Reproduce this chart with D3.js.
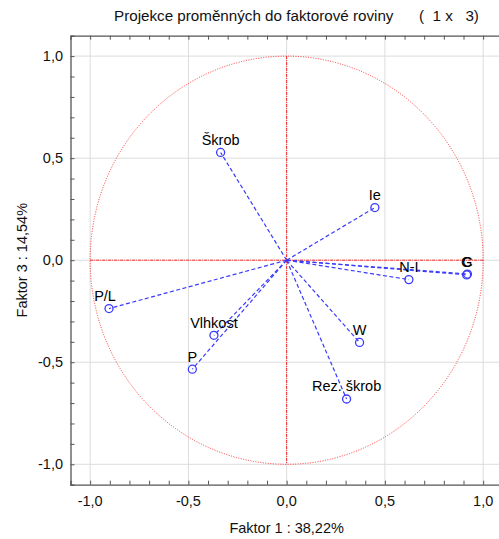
<!DOCTYPE html>
<html>
<head>
<meta charset="utf-8">
<script src="https://cdn.jsdelivr.net/npm/d3@7"></script>
<style>
  body { margin: 0; background: #fff; }
  text { font-family: "Liberation Sans", Arial, sans-serif; fill: #111; }
</style>
</head>
<body>
<div id="chart"></div>
<script>
// variable projections onto factor plane (1 x 3)
const names = ["Škrob", "Ie", "N-I", "C", "G", "P/L", "Vlhkost", "P", "W", "Rez. škrob"];
const factor1 = [-0.336, 0.449, 0.622, 0.920, 0.916, -0.904, -0.370, -0.480, 0.371, 0.305];
const factor3 = [0.528, 0.258, -0.095, -0.068, -0.072, -0.237, -0.368, -0.534, -0.403, -0.680];
const majorTicks = [-1.0, -0.5, 0.0, 0.5, 1.0];
const minorTicks = [-1.0, -0.9, -0.8, -0.7, -0.6, -0.5, -0.4, -0.3, -0.2, -0.1, 0.0,
  0.1, 0.2, 0.3, 0.4, 0.5, 0.6, 0.7, 0.8, 0.9, 1.0];

const dims = { width: 499, height: 539 };
const plot = { left: 70.5, right: 502.8, top: 35.7, bottom: 484.7 };

const svg = d3.select('div#chart').append('svg')
  .attr('width', dims.width)
  .attr('height', dims.height);

const x = d3.scaleLinear().domain([-1.1, 1.1]).range([plot.left, plot.right]);
const y = d3.scaleLinear().domain([-1.1, 1.1]).range([plot.bottom, plot.top]);
const fmt = v => d3.format('.1f')(v).replace('.', ',').replace('−', '-');

// gridlines
svg.append('g').selectAll('line.gx').data(majorTicks).join('line')
  .attr('x1', d => x(d)).attr('x2', d => x(d))
  .attr('y1', plot.top).attr('y2', plot.bottom)
  .attr('stroke', '#dcdcdc');
svg.append('g').selectAll('line.gy').data(majorTicks).join('line')
  .attr('x1', plot.left).attr('x2', plot.right)
  .attr('y1', d => y(d)).attr('y2', d => y(d))
  .attr('stroke', '#dcdcdc');

// axes with inward minor ticks
const xAxisB = d3.axisTop(x).tickValues(minorTicks).tickSize(4).tickFormat('');
const xAxisT = d3.axisBottom(x).tickValues(minorTicks).tickSize(4).tickFormat('');
const yAxisL = d3.axisRight(y).tickValues(minorTicks).tickSize(4).tickFormat('');
[
  svg.append('g').attr('transform', `translate(0,${plot.bottom})`).call(xAxisB),
  svg.append('g').attr('transform', `translate(0,${plot.top})`).call(xAxisT),
  svg.append('g').attr('transform', `translate(${plot.left},0)`).call(yAxisL)
].forEach(g => {
  g.select('.domain').attr('stroke', '#555').attr('stroke-width', 1.3);
  g.selectAll('.tick line').attr('stroke', '#555');
});

// tick labels
svg.append('g').selectAll('text').data(majorTicks).join('text')
  .attr('x', d => x(d)).attr('y', 506)
  .attr('text-anchor', 'middle').attr('font-size', 14.5)
  .text(fmt);
svg.append('g').selectAll('text').data(majorTicks).join('text')
  .attr('x', 63).attr('y', d => y(d) + 5)
  .attr('text-anchor', 'end').attr('font-size', 14.5)
  .text(fmt);

// unit circle and crosshair
svg.append('ellipse')
  .attr('cx', x(0)).attr('cy', y(0))
  .attr('rx', x(1) - x(0)).attr('ry', y(0) - y(1))
  .attr('fill', 'none').attr('stroke', '#ff2020')
  .attr('stroke-width', 0.9).attr('stroke-dasharray', '1,1.5');
svg.append('line')
  .attr('x1', x(-1)).attr('x2', x(1)).attr('y1', y(0)).attr('y2', y(0))
  .attr('stroke', '#ff2020').attr('stroke-dasharray', '3,1,1,1');
svg.append('line')
  .attr('x1', x(0)).attr('x2', x(0)).attr('y1', y(1)).attr('y2', y(-1))
  .attr('stroke', '#ff2020').attr('stroke-dasharray', '3,1,1,1');

// vectors
const idx = d3.range(names.length);
svg.append('g').selectAll('line').data(idx).join('line')
  .attr('x1', x(0)).attr('y1', y(0))
  .attr('x2', i => x(factor1[i])).attr('y2', i => y(factor3[i]))
  .attr('stroke', '#3a3aff').attr('stroke-width', 1.2)
  .attr('stroke-dasharray', '4,2.5');
svg.append('g').selectAll('circle').data(idx).join('circle')
  .attr('cx', i => x(factor1[i])).attr('cy', i => y(factor3[i]))
  .attr('r', 4)
  .attr('fill', 'none').attr('stroke', '#3a3aff').attr('stroke-width', 1.3);
svg.append('g').selectAll('text').data(idx).join('text')
  .attr('x', i => x(factor1[i]) - (names[i] === 'P/L' ? 4 : 0))
  .attr('y', i => y(factor3[i]) - 7.5)
  .attr('text-anchor', 'middle').attr('font-size', 14.5)
  .style('fill', '#000')
  .text(i => names[i]);

// titles
svg.append('text').attr('x', 114).attr('y', 21).attr('font-size', 15.2)
  .text('Projekce proměnných do faktorové roviny');
svg.append('text').attr('x', 419).attr('y', 21).attr('font-size', 15.2)
  .attr('xml:space', 'preserve').style('white-space', 'pre')
  .text('(  1 x   3)');
svg.append('text').attr('x', x(0)).attr('y', 533)
  .attr('text-anchor', 'middle').attr('font-size', 14.5)
  .text('Faktor 1 : 38,22%');
svg.append('text')
  .attr('transform', `translate(27,${y(0)}) rotate(-90)`)
  .attr('text-anchor', 'middle').attr('font-size', 14.5)
  .text('Faktor 3 : 14,54%');
</script>
</body>
</html>
